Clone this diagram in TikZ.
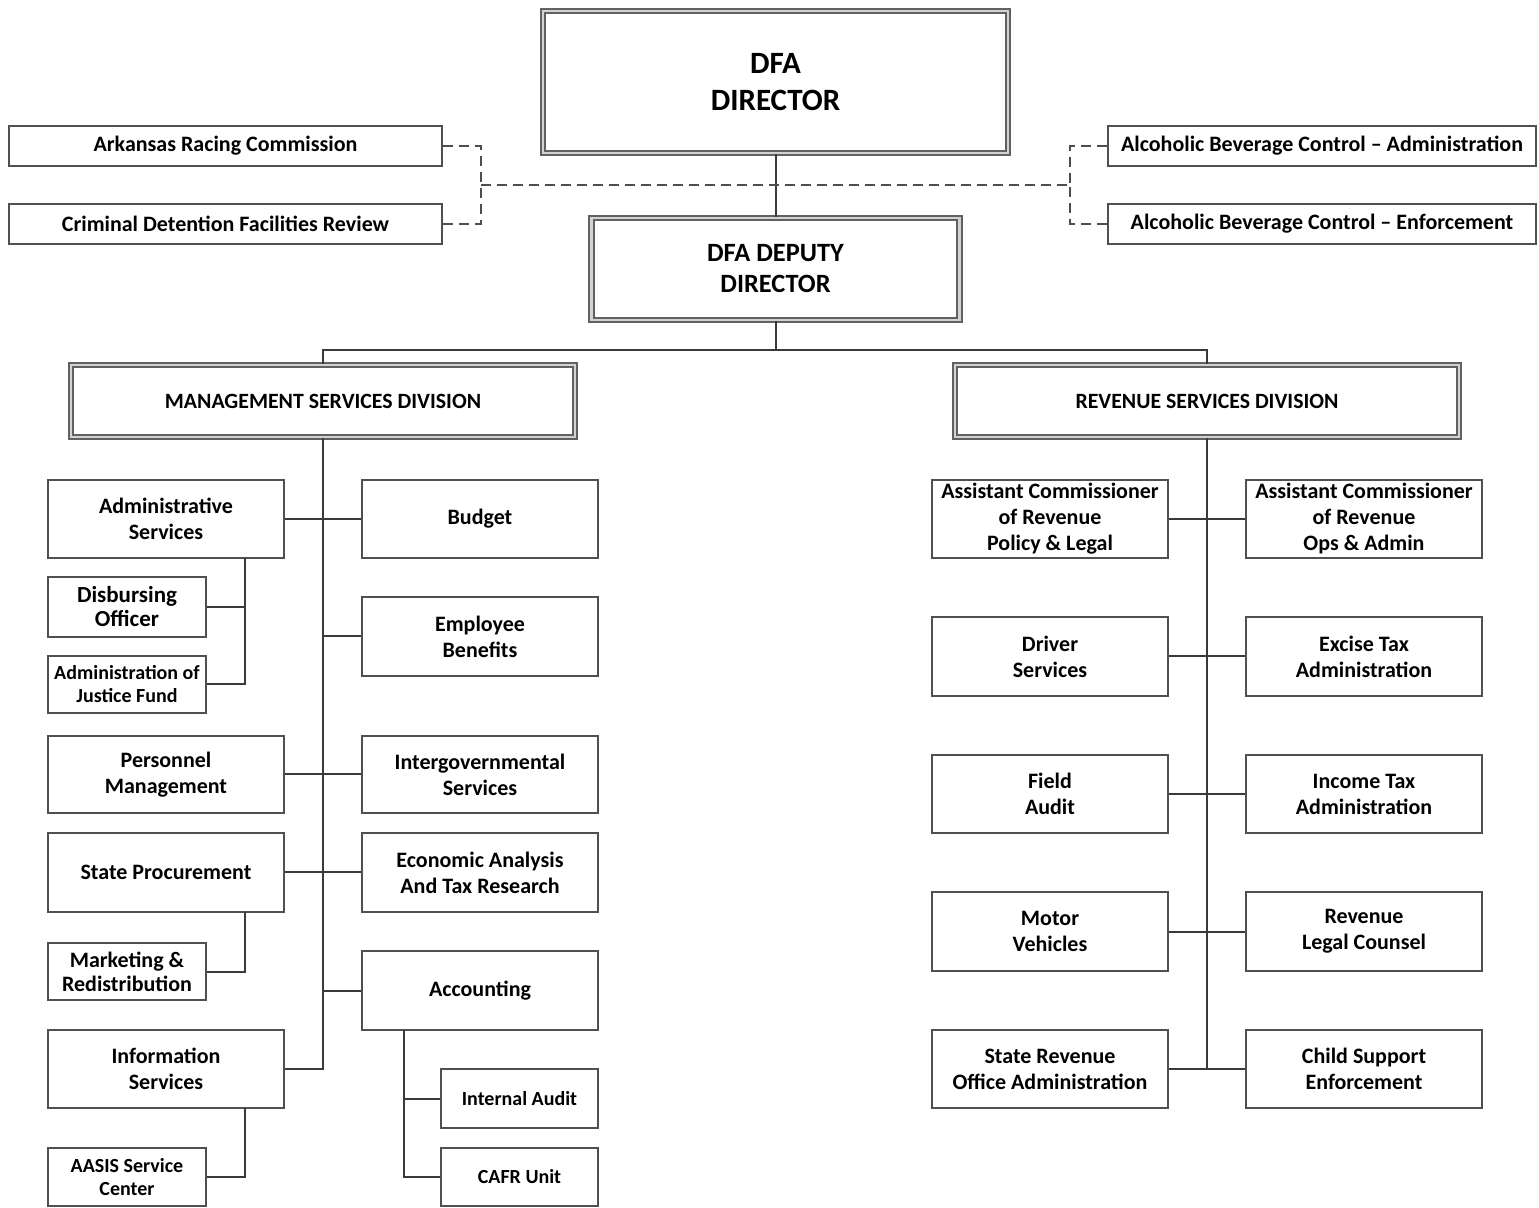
\documentclass[tikz,border=0pt]{standalone}
\usepackage{fontspec}
\setmainfont{Carlito}
\definecolor{boxc}{HTML}{505050}
\definecolor{linec}{HTML}{3A3A3A}
\tikzset{
  sz/.style 2 args={minimum width=#1*0.5pt, minimum height=#2*0.5pt},
  box/.style={draw=boxc, line width=1pt, fill=white, align=center, inner sep=0pt,
    font=\bfseries\fontsize{11}{13}\selectfont},
  sbox/.style={box, font=\bfseries\fontsize{10}{11.5}\selectfont},
  wbox/.style={box, font=\bfseries\fontsize{11}{12}\selectfont},
  dbox/.style={draw=boxc!90, line width=0.9pt, double=gray!35, double distance=1.4pt,
    fill=white, align=center, inner sep=0pt},
  conn/.style={draw=linec, line width=1pt},
  dconn/.style={draw=linec!90, line width=1pt, dash pattern=on 5pt off 3pt}
}
\begin{document}
\begin{tikzpicture}[x=0.5pt, y=-0.5pt]
\useasboundingbox[fill=white] (0,0) rectangle (1539,1208);

% top
\node[dbox, sz={465}{142}, font=\bfseries\fontsize{15.5}{18.5}\selectfont] (dir) at (775.5,82) {DFA\\DIRECTOR};
\node[dbox, sz={368}{102}, font=\bfseries\fontsize{13.2}{15.5}\selectfont] (dep) at (775.5,269) {DFA DEPUTY\\DIRECTOR};

\node[wbox, sz={433}{40}] (arc) at (225.5,146) {Arkansas Racing Commission};
\node[wbox, sz={433}{40}] (cdf) at (225.5,224) {Criminal Detention Facilities Review};
\node[wbox, sz={428}{40}] (abca) at (1322,146) {Alcoholic Beverage Control -- Administration};
\node[wbox, sz={428}{40}] (abce) at (1322,224) {Alcoholic Beverage Control -- Enforcement};

\coordinate (jl) at (481,185);
\coordinate (jr) at (1070,185);

% divisions
\node[dbox, sz={504}{72}, font=\bfseries\fontsize{10.9}{12}\selectfont] (msd) at (323,401) {MANAGEMENT SERVICES DIVISION};
\node[dbox, sz={504}{72}, font=\bfseries\fontsize{10.9}{12}\selectfont] (rsd) at (1207,401) {REVENUE SERVICES DIVISION};

% management left column
\node[box, sz={236}{78}] (adm) at (166,519) {Administrative\\Services};
\node[sbox, sz={158}{60}, font=\bfseries\fontsize{11.5}{12}\selectfont] (dis) at (127,607) {Disbursing\\Officer};
\node[sbox, sz={158}{57}] (ajf) at (127,684.5) {Administration of\\Justice Fund};
\node[box, sz={236}{77}] (per) at (166,774.5) {Personnel\\Management};
\node[box, sz={236}{79}] (spr) at (166,872.5) {State Procurement};
\node[sbox, sz={158}{57}, font=\bfseries\fontsize{11}{12}\selectfont] (mkt) at (127,971.5) {Marketing \&\\Redistribution};
\node[box, sz={236}{78}] (inf) at (166,1069) {Information\\Services};
\node[sbox, sz={158}{58}] (aas) at (127,1177) {AASIS Service\\Center};

% management middle column
\node[box, sz={236}{78}] (bud) at (480,519) {Budget};
\node[box, sz={236}{79}] (emp) at (480,636.5) {Employee\\Benefits};
\node[box, sz={236}{77}] (igs) at (480,774.5) {Intergovernmental\\Services};
\node[box, sz={236}{79}] (eco) at (480,872.5) {Economic Analysis\\And Tax Research};
\node[box, sz={236}{79}] (acc) at (480,990.5) {Accounting};
\node[sbox, sz={157}{59}] (ia) at (519.5,1098.5) {Internal Audit};
\node[sbox, sz={157}{58}] (cafr) at (519.5,1177) {CAFR Unit};

% revenue
\node[box, sz={236}{78}] (acp) at (1050,519) {Assistant Commissioner\\of Revenue\\Policy \& Legal};
\node[box, sz={236}{78}] (aco) at (1364,519) {Assistant Commissioner\\of Revenue\\Ops \& Admin};
\node[box, sz={236}{79}] (drv) at (1050,656.5) {Driver\\Services};
\node[box, sz={236}{79}] (ext) at (1364,656.5) {Excise Tax\\Administration};
\node[box, sz={236}{78}] (fld) at (1050,794) {Field\\Audit};
\node[box, sz={236}{78}] (inc) at (1364,794) {Income Tax\\Administration};
\node[box, sz={236}{79}] (mot) at (1050,931.5) {Motor\\Vehicles};
\node[box, sz={236}{79}] (rlc) at (1364,931.5) {Revenue\\Legal Counsel};
\node[box, sz={236}{78}] (sro) at (1050,1069) {State Revenue\\Office Administration};
\node[box, sz={236}{78}] (cse) at (1364,1069) {Child Support\\Enforcement};

% connectors top
\draw[conn] (dir.south) -- (dep.north);
\draw[dconn] (arc.east) -| (jl);
\draw[dconn] (cdf.east) -| (jl);
\draw[dconn] (jl) -- (jr);
\draw[dconn] (abca.west) -| (jr);
\draw[dconn] (abce.west) -| (jr);

\path (dep.south) ++(0,29) coordinate (dj);
\draw[conn] (dep.south) -- (dj);
\draw[conn] (msd.north) |- (dj) -| (rsd.north);

% management spine
\draw[conn] (msd.south) |- (inf.east);
\draw[conn] (adm.east) -- (bud.west);
\draw[conn] (msd.south |- emp.west) -- (emp.west);
\draw[conn] (per.east) -- (igs.west);
\draw[conn] (spr.east) -- (eco.west);
\draw[conn] (msd.south |- acc.west) -- (acc.west);

\coordinate (s1) at (245,558);
\coordinate (s2) at (245,912);
\coordinate (s3) at (245,1108);
\coordinate (s4) at (404,1030);
\draw[conn] (s1) |- (ajf.east);
\draw[conn] (dis.east) -- (dis.east -| s1);
\draw[conn] (s2) |- (mkt.east);
\draw[conn] (s3) |- (aas.east);
\draw[conn] (s4) |- (cafr.west);
\draw[conn] (ia.west -| s4) -- (ia.west);

% revenue spine
\draw[conn] (rsd.south) -- (rsd.south |- sro.east);
\draw[conn] (acp.east) -- (aco.west);
\draw[conn] (drv.east) -- (ext.west);
\draw[conn] (fld.east) -- (inc.west);
\draw[conn] (mot.east) -- (rlc.west);
\draw[conn] (sro.east) -- (cse.west);
\end{tikzpicture}
\end{document}
